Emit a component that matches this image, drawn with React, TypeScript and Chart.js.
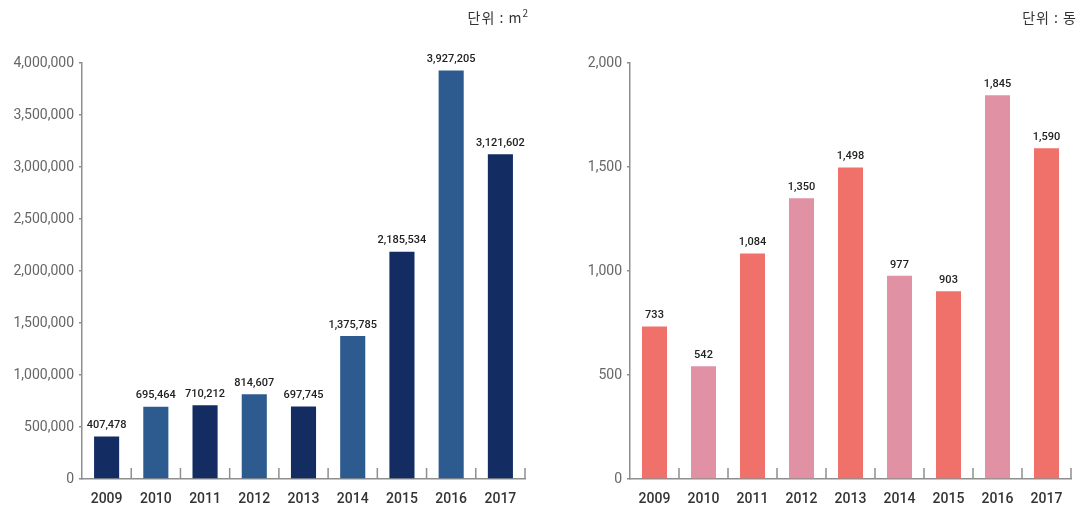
import React, { useEffect, useRef } from "react";
import { Chart, registerables } from "chart.js";

Chart.register(...registerables);

const years = ["2009", "2010", "2011", "2012", "2013", "2014", "2015", "2016", "2017"];
const areaValues = [407478, 695464, 710212, 814607, 697745, 1375785, 2185534, 3927205, 3121602];
const countValues = [733, 542, 1084, 1350, 1498, 977, 903, 1845, 1590];
const areaColors = ["#132d63", "#2d5b8f", "#132d63", "#2d5b8f", "#132d63", "#2d5b8f", "#132d63", "#2d5b8f", "#132d63"];
const countColors = ["#f0706a", "#e091a3", "#f0706a", "#e091a3", "#f0706a", "#e091a3", "#f0706a", "#e091a3", "#f0706a"];
const areaTicks = { max: 4000000, step: 500000 };
const countTicks = { max: 2000, step: 500 };

const AXIS = "#8e8e8e";
const FONT = "Roboto, 'Noto Sans', sans-serif";

const fmt = (v: number) => v.toLocaleString("en-US");

const valueLabels = {
  id: "valueLabels",
  afterDatasetsDraw(chart: any) {
    const ctx = chart.ctx;
    const meta = chart.getDatasetMeta(0);
    const data = chart.data.datasets[0].data as number[];
    ctx.save();
    ctx.font = `500 11px ${FONT}`;
    ctx.fillStyle = "#222";
    ctx.textAlign = "center";
    ctx.textBaseline = "middle";
    meta.data.forEach((bar: any, i: number) => {
      ctx.fillText(fmt(data[i]), bar.x, bar.y - 11);
    });
    ctx.restore();
  },
};

const boundaryTicks = {
  id: "boundaryTicks",
  afterDraw(chart: any) {
    const ctx = chart.ctx;
    const x = chart.scales.x;
    const bottom = chart.chartArea.bottom;
    const n = chart.data.labels.length;
    const w = (x.right - x.left) / n;
    ctx.save();
    ctx.strokeStyle = AXIS;
    ctx.lineWidth = 1.5;
    for (let i = 1; i <= n; i++) {
      const px = x.getPixelForValue(i - 1) + w / 2;
      ctx.beginPath();
      ctx.moveTo(px, bottom);
      ctx.lineTo(px, bottom - 11);
      ctx.stroke();
    }
    ctx.restore();
  },
};

function BarChart(props: {
  values: number[];
  colors: string[];
  max: number;
  step: number;
  yWidth: number;
  padRight: number;
}) {
  const ref = useRef<HTMLCanvasElement | null>(null);
  useEffect(() => {
    if (!ref.current) return;
    const chart = new Chart(ref.current, {
      type: "bar",
      data: {
        labels: years,
        datasets: [
          {
            data: props.values,
            backgroundColor: props.colors,
            barPercentage: 0.51,
            categoryPercentage: 1,
          },
        ],
      },
      options: {
        animation: false,
        responsive: false,
        maintainAspectRatio: false,
        layout: { padding: { top: 63, right: props.padRight, left: 0, bottom: 0 } },
        plugins: { legend: { display: false }, tooltip: { enabled: false } },
        scales: {
          x: {
            grid: { display: false, drawTicks: false },
            border: { display: true, color: AXIS, width: 1.5 },
            ticks: { color: "#333", font: { family: FONT, size: 14, weight: 500 as any }, padding: 12 },
            afterFit: (s: any) => {
              s.height = 31;
            },
          },
          y: {
            min: 0,
            max: props.max,
            grid: { drawOnChartArea: false, tickLength: 3, color: AXIS, lineWidth: 1.5 },
            border: { display: true, color: AXIS, width: 1.5 },
            ticks: {
              stepSize: props.step,
              color: "#666",
              font: { family: FONT, size: 14 },
              padding: 5,
              callback: (v: any) => fmt(Number(v)),
            },
            afterFit: (s: any) => {
              s.width = props.yWidth;
            },
          },
        },
      },
      plugins: [valueLabels, boundaryTicks],
    });
    return () => chart.destroy();
  }, []);
  return <canvas ref={ref} width={541} height={510} style={{ display: "block" }} />;
}

export default function App() {
  const unitStyle: React.CSSProperties = {
    position: "absolute",
    top: 7,
    fontFamily: "'Noto Sans CJK KR', 'Noto Sans', sans-serif",
    fontSize: 14,
    color: "#333",
    lineHeight: "20px",
    whiteSpace: "pre",
    letterSpacing: "1px",
  };
  return (
    <div style={{ position: "absolute", left: 0, top: 0, width: 1082, height: 510, background: "#fff", overflow: "hidden" }}>
      <div style={{ position: "absolute", left: 0, top: 0 }}>
        <BarChart values={areaValues} colors={areaColors} max={areaTicks.max} step={areaTicks.step} yWidth={82} padRight={16} />
      </div>
      <div style={{ position: "absolute", left: 541, top: 0 }}>
        <BarChart values={countValues} colors={countColors} max={countTicks.max} step={countTicks.step} yWidth={89} padRight={11} />
      </div>
      <div style={{ ...unitStyle, right: 1082 - 528 }}>
        {"단위 : m"}<sup style={{ fontSize: 10, verticalAlign: "super", lineHeight: 0, letterSpacing: 0 }}>2</sup>
      </div>
      <div style={{ ...unitStyle, right: 1082 - 1077 }}>{"단위 : 동"}</div>
    </div>
  );
}
